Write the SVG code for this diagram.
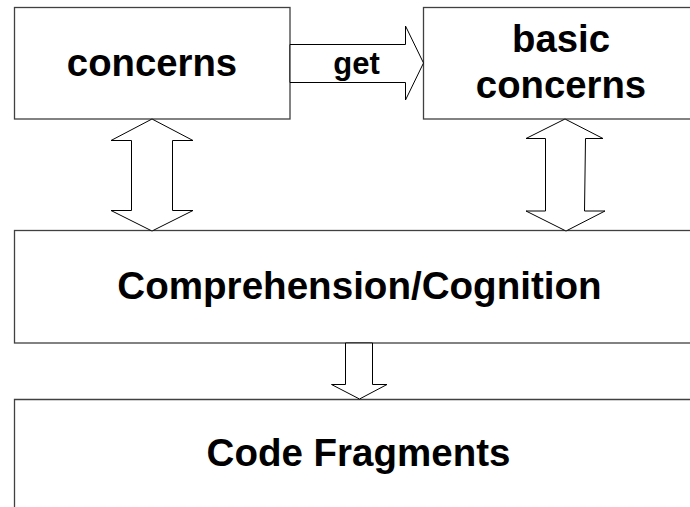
<svg xmlns="http://www.w3.org/2000/svg" width="690" height="507" viewBox="0 0 690 507">
<style>
.box{fill:#fff;stroke:#404040;stroke-width:1.3}
.arr{fill:#fff;stroke:#000;stroke-width:1}
.t{font-family:"Liberation Sans",Arial,Helvetica,sans-serif;font-weight:bold;fill:#000;text-anchor:middle}
</style>
<rect width="690" height="507" fill="#fff"/>
<g id="node-concerns">
<rect class="box" x="14.5" y="7.5" width="275.5" height="111.5"/>
<text class="t" x="152" y="76" font-size="38.3">concerns</text>
</g>
<g id="node-basic-concerns">
<rect class="box" x="423.5" y="7.5" width="276" height="111.5"/>
<text class="t" x="561" y="51.5" font-size="38.3">basic</text>
<text class="t" x="561" y="98" font-size="38.3">concerns</text>
</g>
<g id="node-comprehension">
<rect class="box" x="14.5" y="230.5" width="700" height="112.5"/>
<text class="t" x="359.5" y="298.5" font-size="38.6">Comprehension/Cognition</text>
</g>
<g id="node-code-fragments">
<path class="box" d="M14.5,515 V399.5 H710" style="fill:none"/>
<text class="t" x="358.5" y="465.5" font-size="38.5">Code Fragments</text>
</g>
<g id="connectors">
<g id="conn-get">
<polygon class="arr" points="290,44.5 405.5,44.5 405.5,26 423.5,63 405.5,100 405.5,82.5 290,82.5"/>
<text class="t" x="356.5" y="73.5" font-size="31">get</text>
</g>
<polygon id="conn-left" class="arr" points="152,119 193,140.5 172.5,140.5 172.5,210.5 193,210.5 152,231 111,210.5 131.5,210.5 131.5,140.5 111,140.5"/>
<polygon id="conn-right" class="arr" points="565,119 603,138.5 585.5,138.5 584.5,211 605,211 566,231 526,211 545.5,211 545.5,138.5 526,138.5"/>
<polygon id="conn-down" class="arr" points="345.5,343 372.5,343 372.5,384.5 387,384.5 359.5,399 331.5,384.5 345.5,384.5"/>
</g>
</svg>
